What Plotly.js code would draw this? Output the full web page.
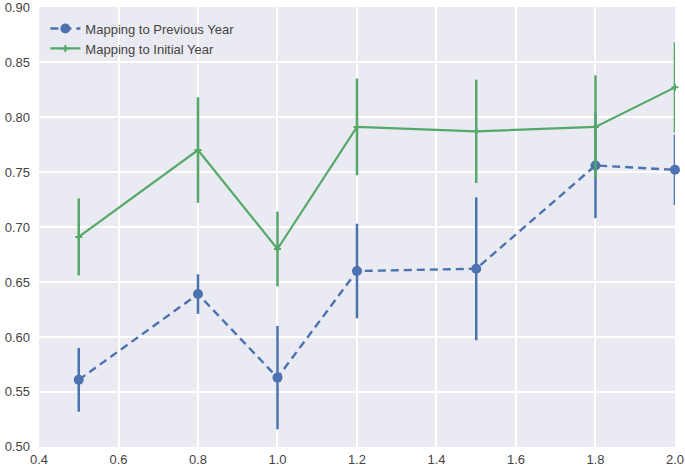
<!DOCTYPE html>
<html>
<head>
<meta charset="utf-8">
<script src="https://cdn.plot.ly/plotly-3.0.1.min.js"></script>
<style>html,body{margin:0;padding:0;background:#fff;}</style>
</head>
<body>
<div id="chart" style="width:685px;height:466px;"></div>
<script>
var xs = [0.5, 0.8, 1.0, 1.2, 1.5, 1.8, 2.0];

var prevYear = [0.561, 0.639, 0.563, 0.660, 0.662, 0.756, 0.752];
var prevErr = [0.029, 0.018, 0.047, 0.043, 0.065, 0.048, 0.032];

var initYear = [0.691, 0.770, 0.680, 0.791, 0.787, 0.791, 0.827];
var initErr = [0.035, 0.048, 0.034, 0.044, 0.047, 0.047, 0.041];

var blue = '#4C72B0';
var green = '#55A868';

var prev = {
  x: xs,
  y: prevYear,
  error_y: {type: 'data', array: prevErr, color: blue, thickness: 2.5, width: 0},
  mode: 'lines+markers',
  line: {color: blue, width: 2.4, dash: '8px,5px'},
  marker: {color: blue, size: 10},
  cliponaxis: false,
  name: 'Mapping to Previous Year'
};

var init = {
  x: xs,
  y: initYear,
  error_y: {type: 'data', array: initErr, color: green, thickness: 2.5, width: 0},
  mode: 'lines+markers',
  line: {color: green, width: 2.2},
  marker: {color: green, size: 5, symbol: 'cross-thin', line: {color: green, width: 2}},
  cliponaxis: false,
  name: 'Mapping to Initial Year'
};

var layout = {
  width: 685,
  height: 466,
  margin: {l: 39, r: 10, t: 7, b: 19},
  paper_bgcolor: '#ffffff',
  plot_bgcolor: '#EAEAF2',
  font: {family: 'Liberation Sans, Arial, sans-serif', size: 13, color: '#444'},
  showlegend: true,
  legend: {x: 0.01, y: 0.985, xanchor: 'left', yanchor: 'top', bgcolor: 'rgba(0,0,0,0)', font: {size: 13, color: '#444'}},
  xaxis: {
    range: [0.4, 2.0001],
    dtick: 0.2,
    tick0: 0.4,
    tickformat: '.1f',
    gridcolor: '#ffffff',
    gridwidth: 1.5,
    zeroline: false,
    showline: false,
    ticks: '',
    ticklabelstandoff: 3,
    ticklabeloverflow: 'allow'
  },
  yaxis: {
    range: [0.4999, 0.9001],
    dtick: 0.05,
    tickformat: '.2f',
    gridcolor: '#ffffff',
    gridwidth: 1.5,
    zeroline: false,
    showline: false,
    ticks: '',
    ticklabelstandoff: 8,
    ticklabeloverflow: 'allow'
  }
};

Plotly.newPlot('chart', [prev, init], layout, {displayModeBar: false});
</script>
</body>
</html>
